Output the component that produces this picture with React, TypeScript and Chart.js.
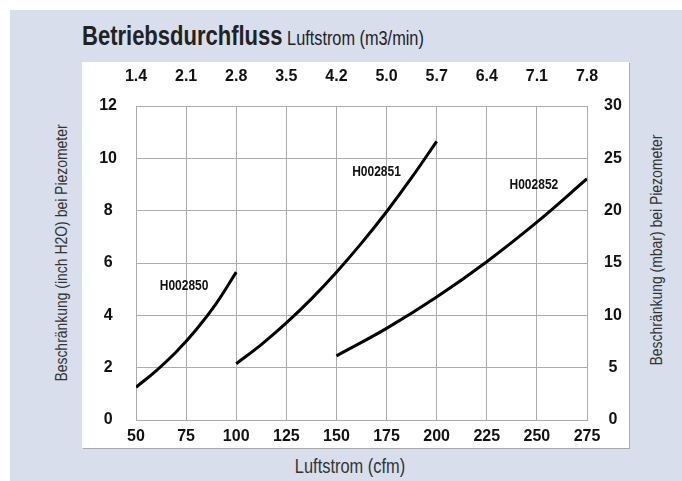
import React, { useEffect, useRef } from "react";
import { Chart, registerables } from "chart.js";

Chart.register(...registerables);

// ---- data ----
const cfmTicks = [50, 75, 100, 125, 150, 175, 200, 225, 250, 275];
const m3minTickLabels = ["1.4", "2.1", "2.8", "3.5", "4.2", "5.0", "5.7", "6.4", "7.1", "7.8"];
const inchTicks = [0, 2, 4, 6, 8, 10, 12];
const mbarTicks = [0, 5, 10, 15, 20, 25, 30];

const h002850Cfm = [50, 60, 70, 80, 90, 100];
const h002850Inch = [1.25, 1.88, 2.6, 3.45, 4.45, 5.65];

const h002851Cfm = [100, 112.5, 125, 137.5, 150, 162.5, 175, 187.5, 200];
const h002851Inch = [2.15, 2.88, 3.71, 4.63, 5.65, 6.76, 7.96, 9.26, 10.65];

const h002852Cfm = [150, 175, 200, 225, 250, 275];
const h002852Inch = [2.45, 3.5, 4.7, 6.05, 7.56, 9.22];

const curveNames = ["H002850", "H002851", "H002852"];
const curveLabelCfm = [74, 170, 248.5];
const curveLabelInch = [5.12, 9.48, 8.98];

const SANS = "'Liberation Sans', Arial, Helvetica, sans-serif";

const toPoints = (xs: number[], ys: number[]) => xs.map((x, i) => ({ x, y: ys[i] }));

const curveLabelPlugin = {
  id: "curveLabels",
  afterDatasetsDraw(chart: any) {
    const { ctx, scales } = chart;
    const x = scales.x;
    const y = scales.y;
    ctx.save();
    ctx.font = `bold 15px ${SANS}`;
    ctx.fillStyle = "#111";
    ctx.textAlign = "center";
    ctx.textBaseline = "middle";
    curveNames.forEach((name, i) => {
      ctx.save();
      ctx.translate(x.getPixelForValue(curveLabelCfm[i]), y.getPixelForValue(curveLabelInch[i]));
      ctx.scale(0.8, 1);
      ctx.fillText(name, 0, 0);
      ctx.restore();
    });
    ctx.restore();
  },
};

const GRID = "#ababab";
const tickFont = { family: SANS, size: 16, weight: "bold" as const };

export default function App() {
  const canvasRef = useRef<HTMLCanvasElement | null>(null);

  useEffect(() => {
    if (!canvasRef.current) return;
    const lineStyle = {
      borderColor: "#000",
      borderWidth: 3,
      pointRadius: 0,
      fill: false,
      tension: 0.4,
      xAxisID: "x",
      yAxisID: "y",
    };
    const chart = new Chart(canvasRef.current, {
      type: "line",
      data: {
        datasets: [
          { label: curveNames[0], data: toPoints(h002850Cfm, h002850Inch), ...lineStyle },
          { label: curveNames[1], data: toPoints(h002851Cfm, h002851Inch), ...lineStyle },
          { label: curveNames[2], data: toPoints(h002852Cfm, h002852Inch), ...lineStyle },
        ],
      },
      options: {
        animation: false,
        responsive: true,
        maintainAspectRatio: false,
        layout: { padding: 0 },
        plugins: {
          legend: { display: false },
          title: { display: false },
          tooltip: { enabled: false },
        },
        scales: {
          x: {
            type: "linear",
            position: "bottom",
            min: cfmTicks[0],
            max: cfmTicks[cfmTicks.length - 1],
            afterBuildTicks: (s: any) => {
              s.ticks = cfmTicks.map((v) => ({ value: v }));
            },
            afterFit: (s: any) => {
              s.height = 61;
            },
            grid: { color: GRID, lineWidth: 1, drawTicks: false },
            border: { display: true, color: GRID, width: 1 },
            ticks: { color: "#111", font: tickFont, padding: 7, maxRotation: 0, autoSkip: false },
          },
          x2: {
            type: "linear",
            position: "top",
            min: cfmTicks[0],
            max: cfmTicks[cfmTicks.length - 1],
            afterBuildTicks: (s: any) => {
              s.ticks = cfmTicks.map((v) => ({ value: v }));
            },
            afterFit: (s: any) => {
              s.height = 106;
            },
            grid: { display: false, drawTicks: false },
            border: { display: true, color: GRID, width: 1 },
            ticks: {
              color: "#111",
              font: tickFont,
              padding: 20,
              maxRotation: 0,
              autoSkip: false,
              callback: (_v: any, i: number) => m3minTickLabels[i],
            },
          },
          y: {
            type: "linear",
            position: "left",
            min: inchTicks[0],
            max: inchTicks[inchTicks.length - 1],
            afterBuildTicks: (s: any) => {
              s.ticks = inchTicks.map((v) => ({ value: v }));
            },
            afterFit: (s: any) => {
              s.width = 136;
            },
            grid: { color: GRID, lineWidth: 1, drawTicks: false },
            border: { display: true, color: GRID, width: 1 },
            ticks: { color: "#111", font: tickFont, padding: 19, crossAlign: "center" },
          },
          y2: {
            type: "linear",
            position: "right",
            min: mbarTicks[0],
            max: mbarTicks[mbarTicks.length - 1],
            afterBuildTicks: (s: any) => {
              s.ticks = mbarTicks.map((v) => ({ value: v }));
            },
            afterFit: (s: any) => {
              s.width = 95;
            },
            grid: { display: false, drawTicks: false },
            border: { display: true, color: GRID, width: 1 },
            ticks: { color: "#111", font: tickFont, padding: 17, crossAlign: "center" },
          },
        },
      },
      plugins: [curveLabelPlugin],
    });
    return () => chart.destroy();
  }, []);

  const rotated = (cx: number, cy: number): React.CSSProperties => ({
    position: "absolute",
    left: cx,
    top: cy,
    transform: "translate(-50%, -50%) rotate(-90deg) scaleX(0.82)",
    whiteSpace: "nowrap",
    fontFamily: SANS,
    fontSize: 17,
    color: "#333",
    lineHeight: "18px",
  });

  return (
    <div style={{ position: "fixed", left: 0, top: 0, width: 682, height: 481, overflow: "hidden" }}>
      <div style={{ position: "absolute", left: 10, top: 10, right: 0, bottom: 0, background: "#d8deec" }} />
      <div
        style={{
          position: "absolute",
          left: 82,
          top: 62,
          width: 547,
          height: 386,
          background: "#fff",
          boxShadow: "1px 1px 0 #a9a9a9",
        }}
      />
      <div
        style={{
          position: "absolute",
          left: 82,
          top: 23,
          lineHeight: "27px",
          whiteSpace: "nowrap",
          color: "#222",
          fontFamily: SANS,
          transform: "scaleX(0.815)",
          transformOrigin: "0 50%",
        }}
      >
        <span style={{ fontSize: 27, fontWeight: "bold" }}>Betriebsdurchfluss</span>
        <span style={{ fontSize: 20 }}> Luftstrom (m3/min)</span>
      </div>
      <div style={rotated(62, 253)}>Beschränkung (inch H2O) bei Piezometer</div>
      <div style={rotated(657, 250)}>Beschränkung (mbar) bei Piezometer</div>
      <div
        style={{
          position: "absolute",
          left: 350,
          top: 466,
          transform: "translate(-50%, -50%) scaleX(0.82)",
          whiteSpace: "nowrap",
          fontFamily: SANS,
          fontSize: 20,
          color: "#333",
          lineHeight: "22px",
        }}
      >
        Luftstrom (cfm)
      </div>
      <div style={{ position: "absolute", left: 0, top: 0, width: 682, height: 481 }}>
        <canvas ref={canvasRef} />
      </div>
    </div>
  );
}
